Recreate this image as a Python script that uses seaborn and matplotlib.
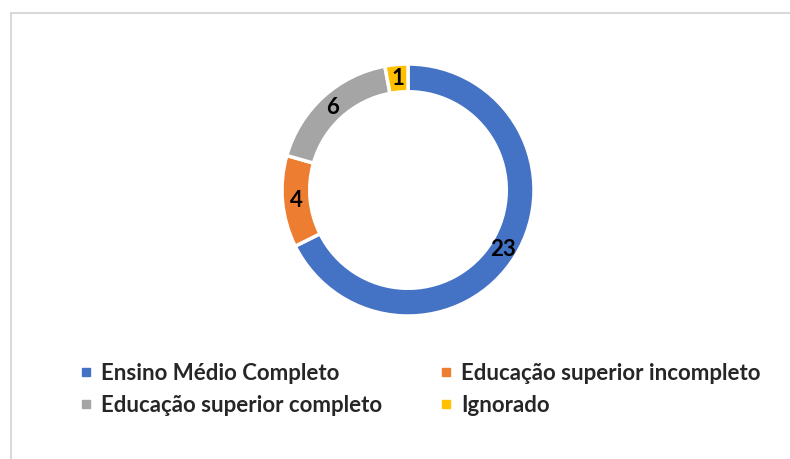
"""
Donut chart - escolaridade
"""

import numpy as np
import matplotlib.pyplot as plt
from matplotlib.lines import Line2D
import seaborn as sns

# Data
categories = ['Ensino Médio Completo', 'Educação superior incompleto',
              'Educação superior completo', 'Ignorado']
values = [23, 4, 6, 1]
colors = ['#4472C4', '#ED7D31', '#A5A5A5', '#FFC000']

sns.set_theme(style="white")
plt.rcParams['font.family'] = ['Lato', 'DejaVu Sans']

W, H = 790, 459
fig = plt.figure(figsize=(W / 100, H / 100), dpi=100)

# light frame (top and left edge of the chart area)
fig.add_artist(Line2D([11 / W, 11 / W], [0, 1 - 13 / H], color='#D9D9D9', lw=1.5))
fig.add_artist(Line2D([11 / W, 1], [1 - 13 / H, 1 - 13 / H], color='#D9D9D9', lw=1.5))

cx, cy, r = 408, 190, 126
ax = fig.add_axes([(cx - r) / W, (H - cy - r) / H, 2 * r / W, 2 * r / H])
ring = 0.22
wedges, _ = ax.pie(values, colors=colors, startangle=90, counterclock=False,
                   radius=1, wedgeprops=dict(width=ring, edgecolor='white', linewidth=2.5))
ax.set_xlim(-1, 1)
ax.set_ylim(-1, 1)
ax.axis('off')

# value labels in the middle of the ring
mid_r = 1 - ring / 2
for w, v in zip(wedges, values):
    ang = np.deg2rad((w.theta1 + w.theta2) / 2)
    ax.text(mid_r * np.cos(ang), mid_r * np.sin(ang), str(v), ha='center', va='center',
            fontsize=16, fontweight='bold', color='black')

handles = [Line2D([0], [0], marker='s', linestyle='none', markersize=6,
                  markerfacecolor=c, markeredgecolor=c) for c in colors]
order = [0, 2, 1, 3]
fig.legend([handles[i] for i in order], [categories[i] for i in order], ncol=2,
           loc='upper left', bbox_to_anchor=(80 / W, 1 - 363 / H), frameon=False,
           prop=dict(size=16, weight='bold'), handlelength=0.5, handletextpad=0.45,
           columnspacing=2.6, labelspacing=0.5, borderpad=0, borderaxespad=0)

plt.savefig('out.png', dpi=100)
plt.close()
